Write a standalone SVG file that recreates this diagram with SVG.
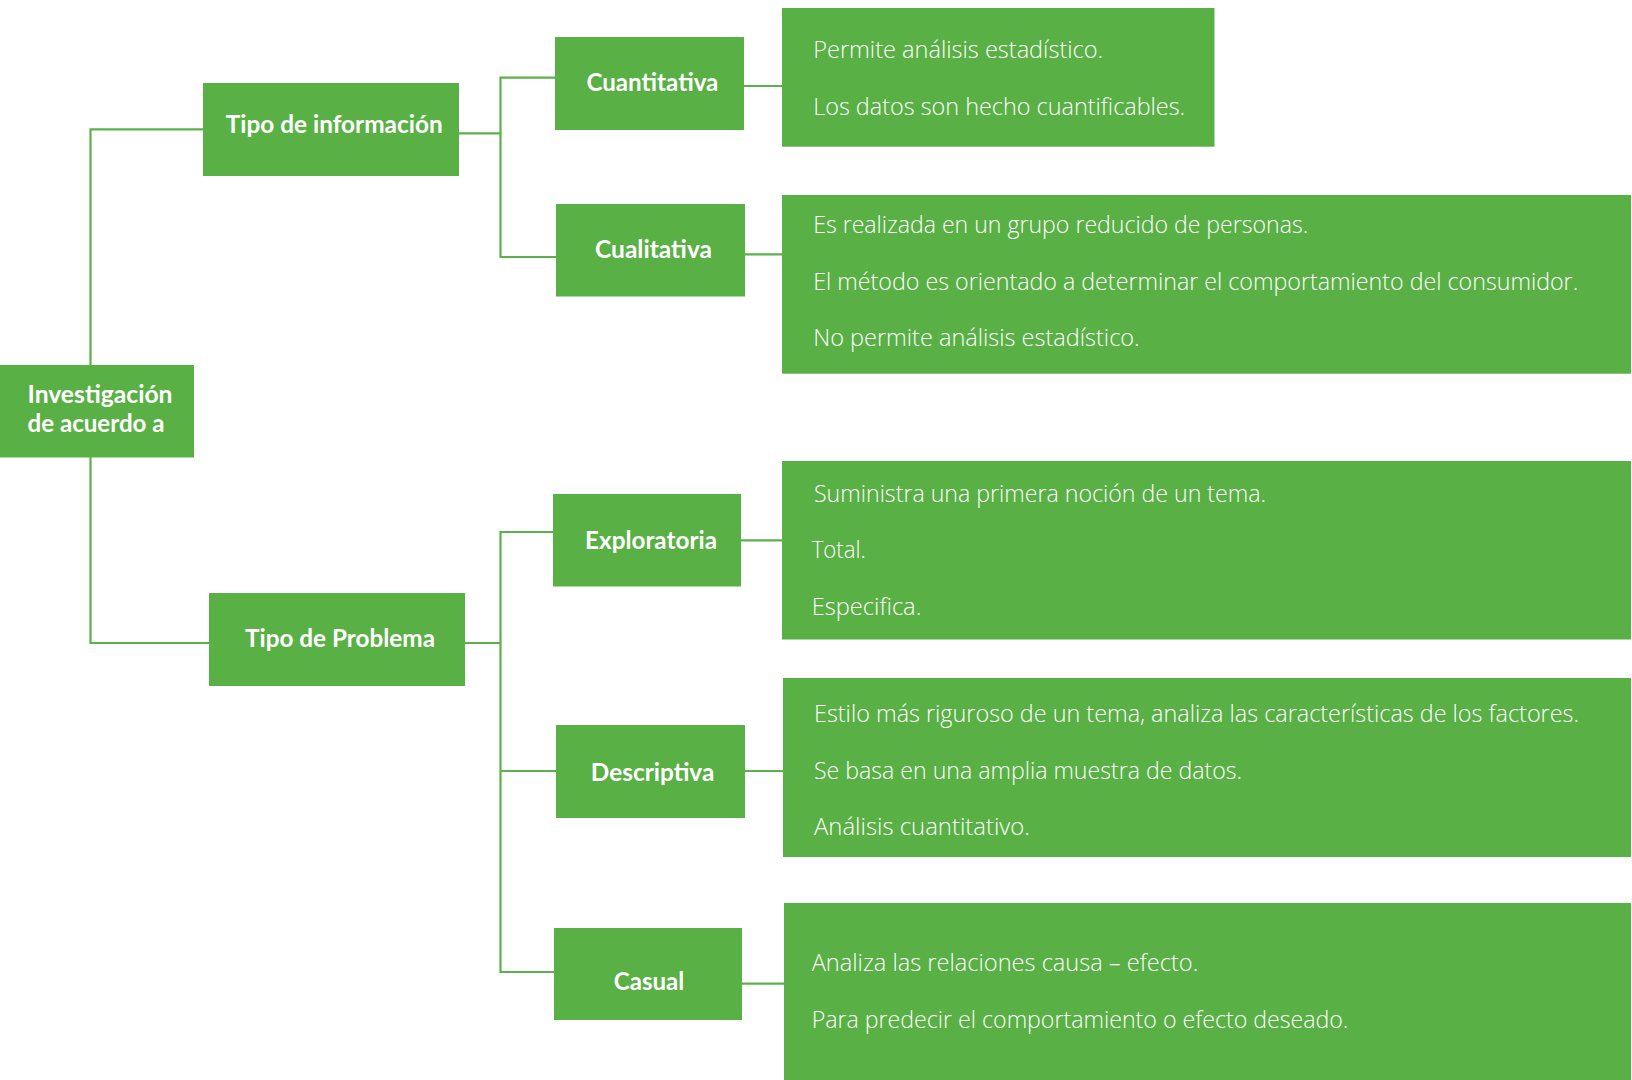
<svg xmlns="http://www.w3.org/2000/svg" width="1632" height="1080" viewBox="0 0 1632 1080">
<style>
.box{fill:#59b045}
.lbl{font-family:Lato,"Open Sans","Liberation Sans",sans-serif;font-weight:700;font-size:24px;fill:#ffffff}
.txt{font-family:"Open Sans","Noto Sans","Liberation Sans",sans-serif;font-weight:300;font-size:24px;fill:#ffffff}
.ln{fill:none;stroke:#5cb24a;stroke-width:2.2}
</style>
<rect width="1632" height="1080" fill="#ffffff"/>
<g id="connectors">
<path class="ln" d="M203,129.3 H90.5 V643 H209"/>
<path class="ln" d="M459,133.3 H500.5"/>
<path class="ln" d="M555,77.7 H500.5 V257 H556"/>
<path class="ln" d="M465,643 H500.5"/>
<path class="ln" d="M553,532 H500.5 V972 H554"/>
<path class="ln" d="M500.5,771 H556"/>
<path class="ln" d="M744,86 H782"/>
<path class="ln" d="M745,254.3 H782"/>
<path class="ln" d="M741,540.4 H782"/>
<path class="ln" d="M745,771 H783"/>
<path class="ln" d="M742,983.7 H784"/>
</g>
<g id="node-root">
<rect class="box" x="0" y="365" width="194" height="92.5"/>
<text class="lbl" x="27.5" y="403.3" textLength="145" lengthAdjust="spacingAndGlyphs">Investigación</text>
<text class="lbl" x="27.5" y="432.3" textLength="137" lengthAdjust="spacingAndGlyphs">de acuerdo a</text>
</g>
<g id="node-tipo-informacion">
<rect class="box" x="203" y="83" width="256" height="93"/>
<text class="lbl" x="225.7" y="133.3" textLength="217" lengthAdjust="spacingAndGlyphs">Tipo de información</text>
</g>
<g id="node-tipo-problema">
<rect class="box" x="209" y="593" width="256" height="93"/>
<text class="lbl" x="245" y="647.3" textLength="190" lengthAdjust="spacingAndGlyphs">Tipo de Problema</text>
</g>
<g id="node-cuantitativa">
<rect class="box" x="555" y="37" width="189" height="93"/>
<text class="lbl" x="586.4" y="91" textLength="132" lengthAdjust="spacingAndGlyphs">Cuantitativa</text>
</g>
<g id="node-cualitativa">
<rect class="box" x="556" y="204" width="189" height="92.5"/>
<text class="lbl" x="595" y="257.7" textLength="117" lengthAdjust="spacingAndGlyphs">Cualitativa</text>
</g>
<g id="node-exploratoria">
<rect class="box" x="553" y="494" width="188" height="92.5"/>
<text class="lbl" x="585" y="549.4" textLength="132" lengthAdjust="spacingAndGlyphs">Exploratoria</text>
</g>
<g id="node-descriptiva">
<rect class="box" x="556" y="725" width="189" height="93"/>
<text class="lbl" x="590.8" y="780.8" textLength="123.5" lengthAdjust="spacingAndGlyphs">Descriptiva</text>
</g>
<g id="node-casual">
<rect class="box" x="554" y="928" width="188" height="92"/>
<text class="lbl" x="613.8" y="989.8" textLength="70.4" lengthAdjust="spacingAndGlyphs">Casual</text>
</g>
<g id="detail-cuantitativa">
<rect class="box" x="782" y="8" width="432.5" height="138.7"/>
<text class="txt" x="813.2" y="58.3" textLength="290" lengthAdjust="spacingAndGlyphs">Permite análisis estadístico.</text>
<text class="txt" x="813.2" y="115" textLength="372" lengthAdjust="spacingAndGlyphs">Los datos son hecho cuantificables.</text>
</g>
<g id="detail-cualitativa">
<rect class="box" x="782" y="195" width="849" height="178.7"/>
<text class="txt" x="813.2" y="233.3" textLength="495" lengthAdjust="spacingAndGlyphs">Es realizada en un grupo reducido de personas.</text>
<text class="txt" x="813.2" y="290" textLength="765" lengthAdjust="spacingAndGlyphs">El método es orientado a determinar el comportamiento del consumidor.</text>
<text class="txt" x="813.2" y="345.7" textLength="326.5" lengthAdjust="spacingAndGlyphs">No permite análisis estadístico.</text>
</g>
<g id="detail-exploratoria">
<rect class="box" x="782" y="461" width="849" height="178.5"/>
<text class="txt" x="814" y="502.4" textLength="452" lengthAdjust="spacingAndGlyphs">Suministra una primera noción de un tema.</text>
<text class="txt" x="811.7" y="558.4" textLength="54" lengthAdjust="spacingAndGlyphs">Total.</text>
<text class="txt" x="811.7" y="614.7" textLength="109.6" lengthAdjust="spacingAndGlyphs">Especifica.</text>
</g>
<g id="detail-descriptiva">
<rect class="box" x="783" y="678" width="848" height="179"/>
<text class="txt" x="814" y="721.6" textLength="765" lengthAdjust="spacingAndGlyphs">Estilo más riguroso de un tema, analiza las características de los factores.</text>
<text class="txt" x="814" y="778.8" textLength="428" lengthAdjust="spacingAndGlyphs">Se basa en una amplia muestra de datos.</text>
<text class="txt" x="814" y="835" textLength="216" lengthAdjust="spacingAndGlyphs">Análisis cuantitativo.</text>
</g>
<g id="detail-casual">
<rect class="box" x="784" y="903" width="847" height="177"/>
<text class="txt" x="811.7" y="970.6" textLength="386.6" lengthAdjust="spacingAndGlyphs">Analiza las relaciones causa – efecto.</text>
<text class="txt" x="811.7" y="1027.8" textLength="536.7" lengthAdjust="spacingAndGlyphs">Para predecir el comportamiento o efecto deseado.</text>
</g>
</svg>
